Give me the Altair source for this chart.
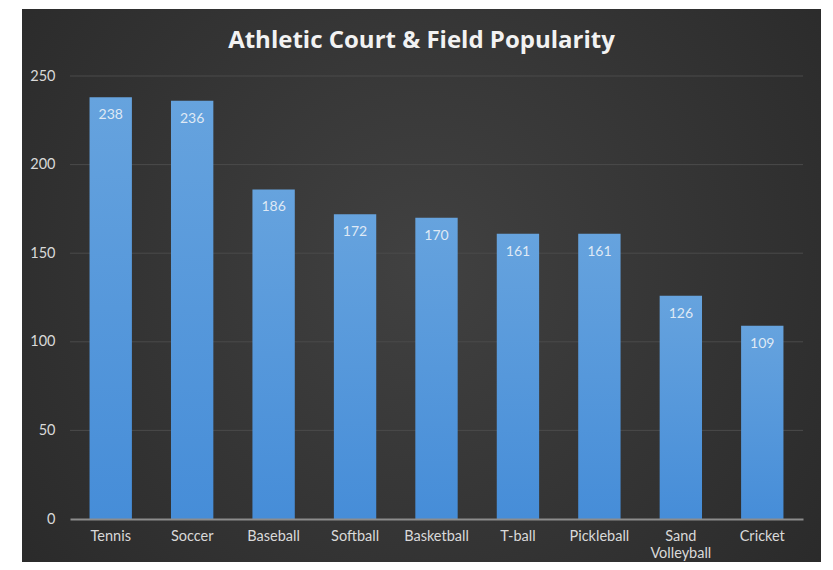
import altair as alt
import pandas as pd

title_text = "Athletic Court & Field Popularity"
categories = ["Tennis", "Soccer", "Baseball", "Softball", "Basketball",
              "T-ball", "Pickleball", "Sand Volleyball", "Cricket"]
values = [238, 236, 186, 172, 170, 161, 161, 126, 109]
y_ticks = [0, 50, 100, 150, 200, 250]

df = pd.DataFrame({"sport": categories, "count": values})
grid_df = pd.DataFrame({"count": y_ticks[1:]})

W, H = 733, 443
FONT = "Lato"

bg = alt.Chart(pd.DataFrame({"a": [0]})).mark_rect(
    color=alt.RadialGradient(
        gradient="radial",
        stops=[alt.GradientStop(offset=0, color="#414141"),
               alt.GradientStop(offset=1, color="#262626")],
        x1=0.5, y1=0.45, r1=0, x2=0.5, y2=0.45, r2=0.75,
    )
).encode(
    x=alt.value(-48), x2=alt.value(751),
    y=alt.value(-67), y2=alt.value(H + 80),
)

title = alt.Chart(pd.DataFrame({"t": [title_text]})).mark_text(
    fontSize=24, font="Open Sans", fontWeight="bold", color="#f2f2f2",
    align="center", baseline="alphabetic",
).encode(x=alt.value(W / 2 - 15), y=alt.value(-28), text="t:N")

y_scale = alt.Scale(domain=[0, 250], nice=False)
y_axis = alt.Axis(
    values=y_ticks, labelColor="#d9d9d9", labelFontSize=14.5, labelFont=FONT,
    labelPadding=15, ticks=False, domain=False, grid=False, zindex=1,
)
y_enc = alt.Y("count:Q", title=None, scale=y_scale, axis=y_axis)

grid = alt.Chart(grid_df).mark_rule(color="#4a4a4a", strokeWidth=1).encode(
    y=y_enc
)

x_enc = alt.X(
    "sport:N", sort=categories, title=None,
    scale=alt.Scale(paddingInner=0.48, paddingOuter=0.24),
    axis=alt.Axis(
        labelAngle=0, labelColor="#d9d9d9", labelFontSize=14.5, labelFont=FONT,
        labelPadding=10, ticks=False, domainColor="#8c8c8c", domainWidth=2,
        labelLineHeight=17, grid=False, zindex=1,
        labelExpr="datum.label == 'Sand Volleyball' ? ['Sand', 'Volleyball'] : datum.label",
    ),
)

bars = alt.Chart(df).mark_bar(
    color=alt.LinearGradient(
        gradient="linear",
        stops=[alt.GradientStop(offset=0, color="#66a3de"),
               alt.GradientStop(offset=1, color="#468dd8")],
        x1=0, y1=0, x2=0, y2=1,
    )
).encode(x=x_enc, y=y_enc)

labels = alt.Chart(df).mark_text(
    color="#dfe9f5", fontSize=14, font=FONT, baseline="middle", dy=18
).encode(x=alt.X("sport:N", sort=categories), y="count:Q", text="count:Q")

chart = alt.layer(bg, title, grid, bars, labels).properties(
    width=W, height=H,
    autosize=alt.AutoSizeParams(type="none"),
    padding={"left": 62, "top": 68, "right": 22, "bottom": 43},
).configure(background="white").configure_view(stroke=None)

chart.save("out.html", embed_options={"renderer": "svg", "actions": False})
